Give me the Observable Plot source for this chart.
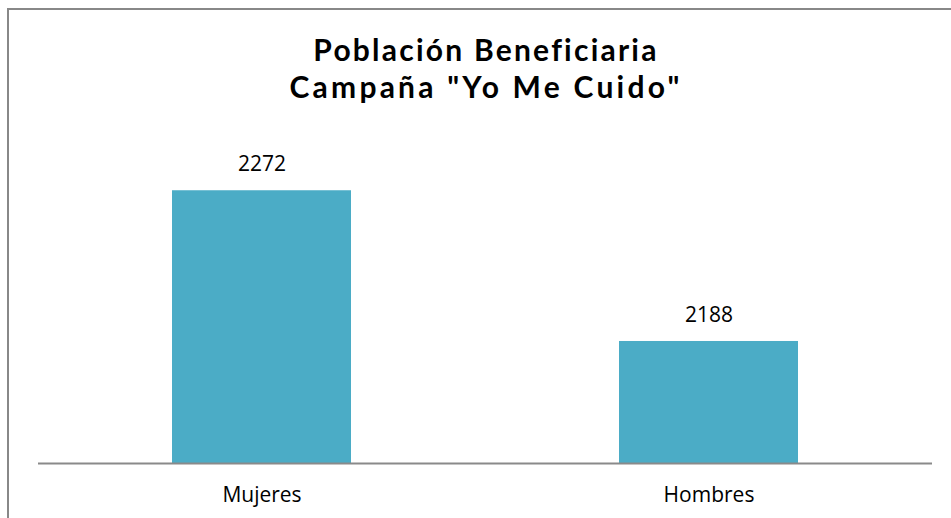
<!DOCTYPE html>
<html>
<head>
<meta charset="utf-8">
<script src="https://cdn.jsdelivr.net/npm/d3@7"></script>
<script src="https://cdn.jsdelivr.net/npm/@observablehq/plot@0.6"></script>
<style>
  html, body { margin: 0; padding: 0; background: #fff; }
  #wrap { position: relative; width: 951px; height: 518px; overflow: hidden; background: #fff; }
  #frame { position: absolute; left: 7px; top: 8px; width: 1200px; height: 800px;
           border-left: 2px solid #888; border-top: 2px solid #888; box-sizing: border-box; }
  .title { position: absolute; left: 0; width: 972px; text-align: center;
           font-family: Lato, "Open Sans", sans-serif; font-weight: 700; font-size: 30px;
           line-height: 37px; height: 37px; color: #000; white-space: nowrap; }
  #t1 { top: 31px; }
  #t2 { top: 68px; }
  #chart { position: absolute; left: 0; top: 0; }
</style>
</head>
<body>
<div id="wrap">
  <div id="frame"></div>
  <div class="title" id="t1">Población Beneficiaria</div>
  <div class="title" id="t2">Campaña "Yo Me Cuido"</div>
  <div id="chart"></div>
</div>
<script>
const categories = ["Mujeres", "Hombres"];
const values = [2272, 2188];
const yDomain = [2120, 2300];

const data = categories.map((c, i) => ({category: c, value: values[i]}));

// stretch the title lines to the reference's width with letter spacing
(function fitTitle() {
  const ctx = document.createElement("canvas").getContext("2d");
  ctx.font = "700 30px Lato";
  const t1 = document.getElementById("t1");
  const t2 = document.getElementById("t2");
  const w1 = ctx.measureText(t1.textContent).width;
  const w2 = ctx.measureText(t2.textContent).width;
  const ls1 = (345 - w1) / t1.textContent.length;
  const ls2 = (393 - w2) / t2.textContent.length;
  t1.style.letterSpacing = ls1 + "px";
  t2.style.letterSpacing = ls2 + "px";
})();

const plot = Plot.plot({
  width: 951,
  height: 518,
  marginLeft: 38,
  marginRight: 19,
  marginTop: 140,
  marginBottom: 55,
  style: {background: "transparent", fontFamily: "Open Sans, sans-serif"},
  x: {domain: categories, paddingInner: 0.6, paddingOuter: 0.3, label: null},
  y: {domain: yDomain, axis: null},
  marks: [
    Plot.barY(data, {x: "category", y1: () => yDomain[0], y2: "value", fill: "#4BACC6"}),
    Plot.ruleY([yDomain[0]], {stroke: "#8a8a8a", strokeWidth: 2}),
    Plot.text(data, {x: "category", y: "value", text: d => String(d.value),
      dy: -26, lineAnchor: "middle", fontSize: 21, fill: "#000"}),
    Plot.axisX({tickSize: 0, tickPadding: 24, fontSize: 21, color: "#000", label: null})
  ]
});
document.getElementById("chart").appendChild(plot);
</script>
</body>
</html>
